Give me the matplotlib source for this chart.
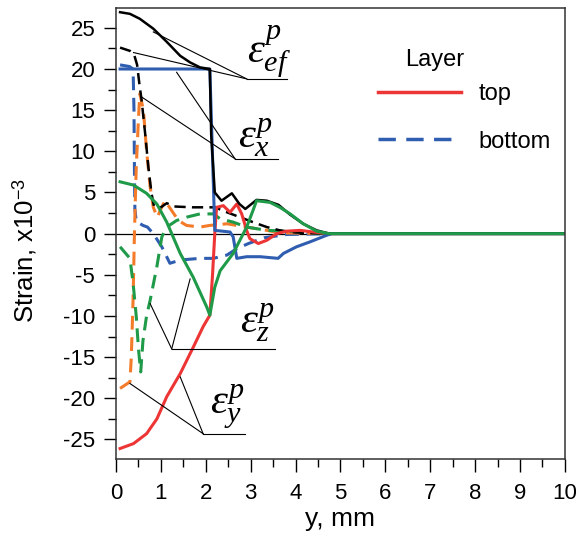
import matplotlib
matplotlib.use("Agg")
import matplotlib.pyplot as plt
from matplotlib.lines import Line2D
from matplotlib.ticker import MultipleLocator

plt.rcParams['font.family'] = ['Liberation Sans', 'DejaVu Sans']
plt.rcParams['axes.unicode_minus'] = False
plt.rcParams['mathtext.fontset'] = 'custom'
plt.rcParams['mathtext.rm'] = 'Liberation Sans'
plt.rcParams['mathtext.it'] = 'Liberation Serif:italic'

# Strain curves (y in mm, strain x1e-3)
ef_top_x = [0.09, 0.31, 0.53, 0.83, 1.13, 1.43, 1.65, 1.87, 2.09, 2.12, 2.2, 2.35, 2.58, 2.75, 2.88,
            3.13, 3.36, 3.62, 3.88, 4.17, 4.47, 4.75, 10.0]
ef_top_y = [26.9, 26.7, 26.1, 24.9, 23.3, 21.6, 20.8, 20.2, 20.0, 12.0, 5.0, 4.0, 4.9, 3.6, 3.0,
            4.1, 4.0, 3.5, 2.3, 1.2, 0.4, 0.0, 0.0]
ef_bot_x = [0.09, 0.31, 0.40, 0.47, 0.52, 0.57, 0.65, 0.72, 0.79, 0.85, 1.0, 1.13, 1.3, 1.7, 2.2,
            2.47, 2.76, 3.05, 3.36, 3.65, 4.0, 4.4, 4.8]
ef_bot_y = [22.6, 22.2, 21.8, 20.5, 18.2, 16.2, 12.1, 8.1, 4.9, 3.2, 3.2, 3.7, 3.3, 3.2, 3.2,
            2.6, 2.0, 1.4, 0.8, 0.4, 0.15, 0.05, 0.0]

x_top_x = [0.09, 1.0, 2.09, 2.2, 2.54, 2.61, 2.69, 2.91, 3.21, 3.61, 3.73, 4.02, 4.32, 4.69, 4.8, 10.0]
x_top_y = [20.0, 20.0, 20.0, 0.4, 0.2, -0.4, -3.0, -2.8, -2.8, -3.0, -2.4, -1.6, -1.0, -0.2, 0.0, 0.0]
x_bot_x = [0.09, 0.3, 0.38, 0.40, 0.41, 0.42, 0.45, 0.6, 0.7, 0.83, 1.02, 1.2, 1.43, 1.87, 2.17,
           2.47, 2.7, 2.95, 3.3, 3.8, 4.8]
x_bot_y = [20.5, 20.3, 20.0, 15.0, 8.0, 3.0, 1.5, 1.0, 0.8, 0.0, -1.6, -3.6, -3.2, -3.0, -3.0,
           -2.6, -1.8, -1.2, -0.5, -0.1, 0.0]

y_top_x = [0.09, 0.39, 0.68, 0.91, 1.13, 1.43, 1.72, 1.94, 2.09, 2.15, 2.2, 2.24, 2.39, 2.54, 2.69,
           2.80, 2.91, 2.98, 3.17, 3.36, 3.58, 3.80, 4.10, 4.39, 4.75, 10.0]
y_top_y = [-26.1, -25.5, -24.3, -22.5, -19.8, -17.0, -13.8, -11.3, -9.9, -5.0, 0.0, 3.2, 3.4, 2.6, 3.6,
           2.4, 0.4, -0.6, -1.2, -0.8, 0.0, 0.3, 0.4, 0.2, 0.0, 0.0]
y_bot_x = [0.09, 0.31, 0.34, 0.38, 0.41, 0.45, 0.50, 0.53, 0.61, 0.68, 0.76, 0.83, 0.92, 1.0, 1.09,
           1.24, 1.39, 1.57, 1.87, 2.09, 2.47, 2.91, 3.36, 3.65, 4.8]
y_bot_y = [-18.8, -18.0, -15.0, -8.0, 0.0, 8.0, 14.0, 17.0, 15.0, 10.1, 5.7, 3.2, 2.0, 3.0, 4.0,
           2.8, 1.6, 1.0, 0.8, 1.0, 1.2, 0.8, 0.4, 0.1, 0.0]

z_top_x = [0.09, 0.39, 0.68, 0.91, 1.13, 1.43, 1.72, 2.02, 2.09, 2.2, 2.32, 2.61, 2.76, 2.91, 3.05,
           3.13, 3.43, 3.65, 3.88, 4.17, 4.47, 4.75, 10.0]
z_top_y = [6.3, 5.9, 4.9, 3.6, 1.4, -2.4, -5.3, -8.9, -9.9, -6.5, -4.5, -2.4, -0.8, 0.8, 2.8,
           4.0, 3.8, 3.2, 2.4, 1.2, 0.3, 0.0, 0.0]
z_bot_x = [0.09, 0.31, 0.38, 0.45, 0.50, 0.55, 0.60, 0.68, 0.76, 0.91, 1.02, 1.13, 1.35, 1.57, 1.87,
           2.17, 2.32, 2.61, 2.91, 3.36, 3.80, 4.3, 4.8]
z_bot_y = [-1.6, -3.0, -6.0, -10.0, -14.0, -16.8, -13.0, -10.0, -8.1, -4.0, -0.4, 0.8, 1.6, 2.0, 2.4,
           2.4, 1.8, 1.4, 0.8, 0.4, 0.3, 0.1, 0.0]

# label text, label anchor, leader-line knee, leader end, leader targets
labels = [r'$\varepsilon_{ef}^{p}$', r'$\varepsilon_{x}^{p}$', r'$\varepsilon_{z}^{p}$', r'$\varepsilon_{y}^{p}$']
label_pos = [(2.92, 20.8), (2.72, 10.5), (2.76, -12.0), (2.09, -21.8)]
knee_pos = [(2.91, 18.8), (2.65, 9.1), (1.24, -14.0), (1.94, -24.3)]
knee_end = [3.80, 3.61, 3.54, 2.87]
targets = [[(0.83, 24.5), (0.39, 22.0)],
           [(1.35, 19.6), (0.57, 16.6)],
           [(1.65, -5.5), (0.76, -8.5)],
           [(1.43, -17.4), (0.31, -18.2)]]

RED = '#ee3535'
BLUE = '#2f5db0'
ORANGE = '#f47b2a'
GREEN = '#1f9a48'
DASH = (0, (4.5, 2.5))

fig = plt.figure(figsize=(5.86, 5.39), dpi=100)
ax = fig.add_axes([0.198, 0.148, 0.766, 0.837])

ax.axhline(0, color='black', lw=0.9)

ax.plot(x_bot_x, x_bot_y, color=BLUE, lw=2.2, ls=DASH)
ax.plot(y_bot_x, y_bot_y, color=ORANGE, lw=2.2, ls=DASH)
ax.plot(z_bot_x, z_bot_y, color=GREEN, lw=2.2, ls=DASH)
ax.plot(ef_bot_x, ef_bot_y, color='black', lw=1.8, ls=DASH)
ax.plot(y_top_x, y_top_y, color=RED, lw=2.2)
ax.plot(x_top_x, x_top_y, color=BLUE, lw=2.2)
ax.plot(ef_top_x, ef_top_y, color='black', lw=1.8)
ax.plot(z_top_x, z_top_y, color=GREEN, lw=2.2)

for lab, lp, kp, ke, tg in zip(labels, label_pos, knee_pos, knee_end, targets):
    ax.plot([kp[0], ke], [kp[1], kp[1]], color='black', lw=0.8)
    for t in tg:
        ax.plot([kp[0], t[0]], [kp[1], t[1]], color='black', lw=0.8)
    ax.text(lp[0], lp[1], lab, fontsize=31, ha='left', va='baseline')

handles = [Line2D([], [], color=RED, lw=2.5),
           Line2D([], [], color=BLUE, lw=2.5, ls=(0, (5, 3)))]
ax.legend(handles, ['top', 'bottom'], loc='upper left', bbox_to_anchor=(0.536, 0.881),
          frameon=False, fontsize=17, handlelength=3.5, handletextpad=0.75, labelspacing=1.08)
ax.text(0.644, 0.886, 'Layer', transform=ax.transAxes, fontsize=17, ha='left', va='center')

ax.set_xlim(0, 10)
ax.set_ylim(-27.4, 27.4)
ax.xaxis.set_major_locator(MultipleLocator(1))
ax.xaxis.set_minor_locator(MultipleLocator(0.5))
ax.yaxis.set_major_locator(MultipleLocator(5))
ax.yaxis.set_minor_locator(MultipleLocator(2.5))
ax.tick_params(which='major', direction='out', length=9, width=1, labelsize=16, pad=6)
ax.tick_params(axis='x', which='major', pad=8)
ax.tick_params(which='minor', direction='out', length=5.5, width=1)
for s in ax.spines.values():
    s.set_linewidth(1.1)
    s.set_color('#333333')

ax.set_xlabel('y, mm', fontsize=19, labelpad=2)
ax.set_ylabel(r'Strain, x10$^{-3}$', fontsize=18.5)
ax.yaxis.set_label_coords(-0.172, 0.463)

fig.savefig('out.png', dpi=100)
